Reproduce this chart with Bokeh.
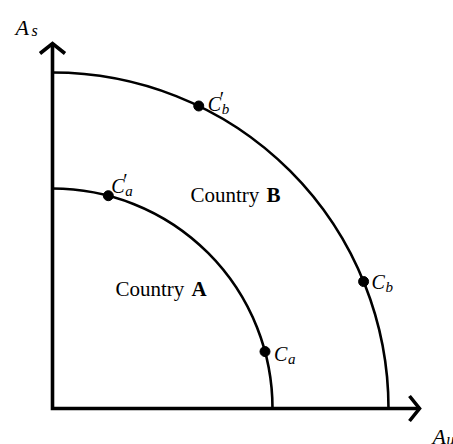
import math
from bokeh.plotting import figure
from bokeh.models import Range1d
from bokeh.core.properties import value
from bokeh.embed import file_html
from bokeh.resources import INLINE

# ---- data (model units) ----
country_names = ["Country ", "Country "]
country_letters = ["A", "B"]
frontier_radius = [220, 336]                # A, B
point_names = ["C", "C", "C", "C"]
point_subs = ["a", "a", "b", "b"]
point_primes = ["", "\u2032", "", "\u2032"]
point_radius = [220, 220, 336, 336]
point_angle_deg = [15.0, 75.3, 22.2, 64.2]
axis_len_x = 367
axis_len_y = 365

FONT = value("Liberation Serif")

p = figure(width=453, height=444, output_backend="svg", toolbar_location=None,
           x_range=Range1d(-52, 401), y_range=Range1d(-36, 408),
           min_border=0, min_border_left=0, min_border_right=0,
           min_border_top=0, min_border_bottom=0)
p.axis.visible = False
p.grid.visible = False
p.outline_line_color = None
p.background_fill_color = "white"
p.border_fill_color = "white"

# frontiers as quarter circles
p.arc(x=[0, 0], y=[0, 0], radius=frontier_radius, radius_units="data",
      start_angle=0, end_angle=math.pi / 2, line_color="black", line_width=2.6)

# axes with open arrow heads
head_d, head_w = 10, 12.5
p.multi_line(xs=[[0, 0, axis_len_x], [axis_len_x - head_d, axis_len_x, axis_len_x - head_d],
                 [-head_w, 0, head_w]],
             ys=[[axis_len_y, 0, 0], [head_w, 0, -head_w],
                 [axis_len_y - head_d, axis_len_y, axis_len_y - head_d]],
             line_color="black", line_width=3.6, line_join="miter", line_cap="butt")

# points
px = [r * math.cos(math.radians(a)) for r, a in zip(point_radius, point_angle_deg)]
py = [r * math.sin(math.radians(a)) for r, a in zip(point_radius, point_angle_deg)]
p.scatter(px, py, size=10, color="black")

# point labels
lab_dx = [9, 3, 8, 9]
lab_dy = [-2, 10, 0, 2]
lx = [x + dx for x, dx in zip(px, lab_dx)]
ly = [y + dy for y, dy in zip(py, lab_dy)]
p.text(x=lx, y=ly, text=point_names, text_font=FONT, text_font_style="italic",
       text_font_size="20px", text_baseline="alphabetic", text_align="left")
p.text(x=[x + 12 for x in lx], y=[y + 16 for y in ly], text=point_primes, text_font=FONT,
       text_font_size="20px", text_baseline="top", text_align="left")
p.text(x=[x + 14 for x in lx], y=[y - 5 for y in ly], text=point_subs, text_font=FONT,
       text_font_style="italic", text_font_size="15px", text_baseline="alphabetic",
       text_align="left")

# country labels
cx = [63, 138]
cy = [120, 214]
p.text(x=cx, y=cy, text=country_names, text_font=FONT, text_font_size="21px",
       text_baseline="alphabetic", text_align="left")
p.text(x=[x + 76 for x in cx], y=cy, text=country_letters, text_font=FONT,
       text_font_style="bold", text_font_size="21px", text_baseline="alphabetic",
       text_align="left")

# axis labels
p.text(x=[-37, 380], y=[381, -28], text=["A", "A"], text_font=FONT,
       text_font_style="italic", text_font_size="22px", text_baseline="alphabetic")
p.text(x=[-21, 394], y=[378, -31], text=["s", "u"], text_font=FONT,
       text_font_style="italic", text_font_size="16px", text_baseline="alphabetic")

open("out.html", "w").write(file_html(p, INLINE))
